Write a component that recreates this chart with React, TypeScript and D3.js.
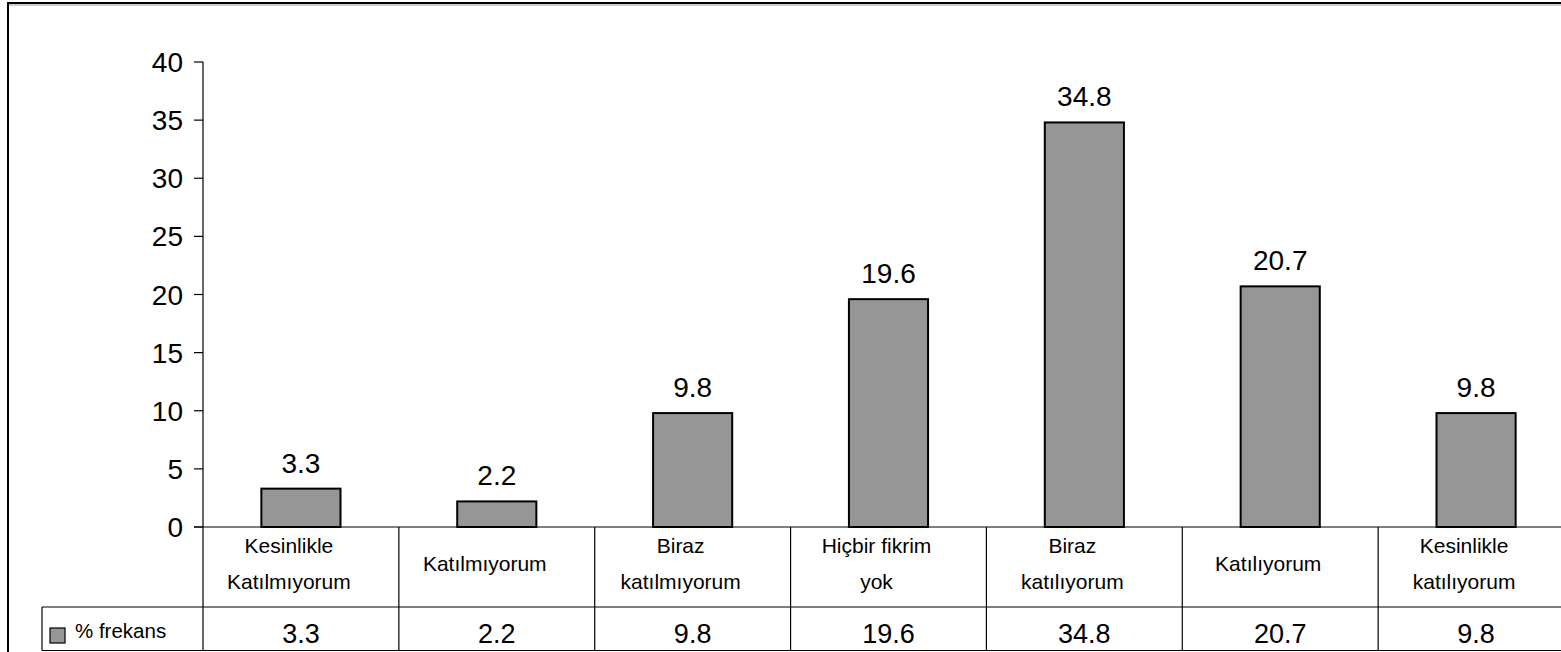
import React from "react";
import * as d3 from "d3";

// Survey response categories (each label broken into its displayed lines)
const categories: string[] = [
  "Kesinlikle Katılmıyorum",
  "Katılmıyorum",
  "Biraz katılmıyorum",
  "Hiçbir fikrim yok",
  "Biraz katılıyorum",
  "Katılıyorum",
  "Kesinlikle katılıyorum",
];
const categoryLines: string[][] = [
  ["Kesinlikle", "Katılmıyorum"],
  ["Katılmıyorum"],
  ["Biraz", "katılmıyorum"],
  ["Hiçbir fikrim", "yok"],
  ["Biraz", "katılıyorum"],
  ["Katılıyorum"],
  ["Kesinlikle", "katılıyorum"],
];
// Percentage frequency per category
const frequencies: number[] = [3.3, 2.2, 9.8, 19.6, 34.8, 20.7, 9.8];
const seriesName = "% frekans";
const yTicks: number[] = [0, 5, 10, 15, 20, 25, 30, 35, 40];

const W = 1561;
const H = 652;
const FONT = "'Liberation Sans', Arial, Helvetica, sans-serif";
const BAR_FILL = "#969696";

export default function App() {
  const plotLeft = 203;
  const plotRight = 1574;
  const plotTop = 62;
  const plotBottom = 527;
  const rowSplit = 607;
  const tableBottom = 650.5;
  const legendLeft = 42;

  const x = d3.scaleBand<string>().domain(categories).range([plotLeft, plotRight]).padding(0);
  const y = d3.scaleLinear().domain([0, 40]).range([plotBottom, plotTop]);
  const barW = x.bandwidth() * 0.404;

  return (
    <svg
      width={W}
      height={H}
      style={{ position: "absolute", left: 0, top: 0, display: "block", background: "#fff" }}
      fontFamily={FONT}
    >
      {/* outer chart frame, running off the right and bottom edges */}
      <rect x={8} y={3} width={W + 40} height={H + 40} fill="none" stroke="#000" strokeWidth={2} />
      <line x1={9} x2={W + 10} y1={5} y2={5} stroke="#999" strokeWidth={1} />

      {/* y axis */}
      <line x1={plotLeft} x2={plotLeft} y1={plotTop} y2={plotBottom} stroke="#000" strokeWidth={1.2} />
      {yTicks.map((t) => (
        <g key={t}>
          <line x1={plotLeft - 9} x2={plotLeft} y1={y(t)} y2={y(t)} stroke="#000" strokeWidth={1.2} />
          <text x={plotLeft - 20} y={y(t) + 10} textAnchor="end" fontSize={28} fill="#000">
            {t}
          </text>
        </g>
      ))}

      {/* bars and value labels */}
      {categories.map((c, i) => {
        const cx = (x(c) as number) + x.bandwidth() / 2;
        const v = frequencies[i];
        return (
          <g key={c}>
            <rect
              x={cx - barW / 2}
              y={y(v)}
              width={barW}
              height={plotBottom - y(v)}
              fill={BAR_FILL}
              stroke="#000"
              strokeWidth={2}
            />
            <text x={cx} y={y(v) - 16} textAnchor="middle" fontSize={28} fill="#000">
              {v.toFixed(1)}
            </text>
          </g>
        );
      })}

      {/* data table: horizontal rules */}
      <line x1={plotLeft - 9} x2={W + 20} y1={plotBottom} y2={plotBottom} stroke="#000" strokeWidth={1.2} />
      <line x1={legendLeft} x2={W + 20} y1={rowSplit} y2={rowSplit} stroke="#000" strokeWidth={1.2} />
      <line x1={legendLeft} x2={W + 20} y1={tableBottom} y2={tableBottom} stroke="#000" strokeWidth={1.2} />
      <line x1={legendLeft} x2={legendLeft} y1={rowSplit} y2={tableBottom} stroke="#000" strokeWidth={1.2} />

      {/* data table: column rules */}
      {categories.map((c) => (
        <line
          key={"col-" + c}
          x1={x(c) as number}
          x2={x(c) as number}
          y1={plotBottom}
          y2={tableBottom}
          stroke="#000"
          strokeWidth={1.2}
        />
      ))}

      {/* category labels */}
      {categories.map((c, i) => {
        const cx = (x(c) as number) + x.bandwidth() / 2 - 12;
        const lines = categoryLines[i];
        const baselines = lines.length === 2 ? [553, 589] : [571];
        return (
          <g key={"lab-" + c}>
            {lines.map((ln, j) => (
              <text key={j} x={cx} y={baselines[j]} textAnchor="middle" fontSize={21} fill="#000">
                {ln}
              </text>
            ))}
          </g>
        );
      })}

      {/* legend key + series values row */}
      <rect x={50} y={628} width={15} height={15} fill={BAR_FILL} stroke="#000" strokeWidth={1.2} />
      <text x={75} y={638} fontSize={20.5} fill="#000">
        {seriesName}
      </text>
      {categories.map((c, i) => (
        <text
          key={"val-" + c}
          x={(x(c) as number) + x.bandwidth() / 2}
          y={643}
          textAnchor="middle"
          fontSize={27}
          fill="#000"
        >
          {frequencies[i].toFixed(1)}
        </text>
      ))}
    </svg>
  );
}
